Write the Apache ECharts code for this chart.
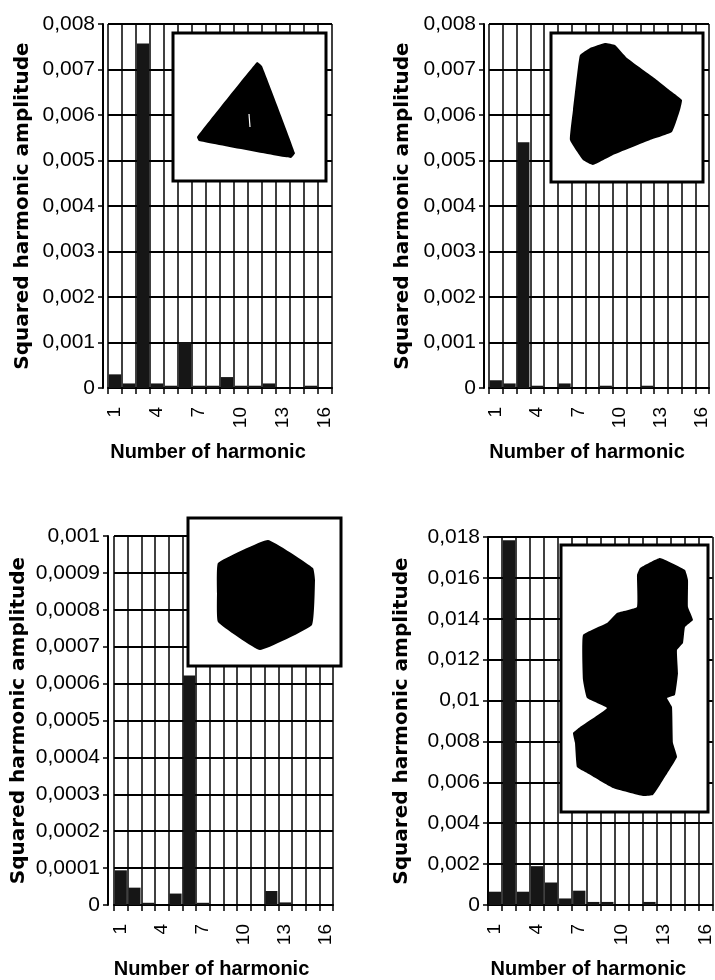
<!DOCTYPE html>
<html>
<head>
<meta charset="utf-8">
<script src="https://cdn.jsdelivr.net/npm/echarts@6/dist/echarts.min.js"></script>
<style>
  html, body { margin: 0; padding: 0; background: #fff; }
  #chart { width: 715px; height: 980px; }
</style>
</head>
<body>
<div id="chart"></div>
<script>
// harmonics 1..16
var harmonics = ['1','2','3','4','5','6','7','8','9','10','11','12','13','14','15','16'];

// squared harmonic amplitudes
var triangleVals = [0.0003, 0.0001, 0.00757, 0.0001, 0.00005, 0.00101, 0.00005, 0.00005,
                    0.00024, 0.00005, 0.00005, 0.0001, 0, 0, 0.00005, 0];
var roundedVals  = [0.00017, 0.0001, 0.0054, 0.00005, 0, 0.0001, 0, 0,
                    0.00005, 0, 0, 0.00005, 0, 0, 0, 0];
var hexagonVals  = [0.000094, 0.000047, 0.000006, 0, 0.000031, 0.000622, 0.000006, 0,
                    0, 0, 0, 0.000038, 0.000007, 0, 0, 0];
var twinVals     = [0.00065, 0.01784, 0.00065, 0.0019, 0.0011, 0.00032, 0.0007, 0.00015,
                    0.00015, 0, 0, 0.00015, 0, 0, 0, 0];

// y scales (max, step) per panel
var yMax  = [0.008, 0.008, 0.001, 0.018];
var yStep = [0.001, 0.001, 0.0001, 0.002];

var panels = [triangleVals, roundedVals, hexagonVals, twinVals];

// grid boxes
var grids = [
  { left: 108, top: 24,  width: 224, height: 364 },
  { left: 489, top: 24,  width: 220, height: 364 },
  { left: 114, top: 536, width: 219, height: 371 },
  { left: 488, top: 537, width: 228, height: 370 }
];
var yOffsets = [5, 5, 6, 0];
var yNameGaps = [70, 71, 79, 76];

var chart = echarts.init(document.getElementById('chart'));

var xAxes = [], yAxes = [], series = [];
panels.forEach(function (vals, i) {
  xAxes.push({
    type: 'category',
    gridIndex: i,
    data: harmonics,
    boundaryGap: true,
    name: 'Number of harmonic',
    nameLocation: 'middle',
    nameGap: 54,
    nameTextStyle: { fontFamily: 'Liberation Sans', fontWeight: 'bold', fontSize: 20, color: '#000', padding: [0, 24, 0, 0] },
    axisLine: { lineStyle: { color: '#000', width: 2 } },
    axisTick: { show: true, interval: 0, length: 6, lineStyle: { color: '#000', width: 1.5 } },
    axisLabel: { interval: 2, rotate: 90, margin: 19, fontFamily: 'Liberation Sans', fontSize: 19, color: '#000' },
    splitLine: { show: true, interval: 0, lineStyle: { color: '#000', width: 1.5 } }
  });
  yAxes.push({
    type: 'value',
    gridIndex: i,
    min: 0,
    max: yMax[i],
    interval: yStep[i],
    offset: yOffsets[i],
    name: 'Squared harmonic amplitude',
    nameLocation: 'middle',
    nameGap: yNameGaps[i],
    nameTextStyle: { fontFamily: 'DejaVu Sans', fontWeight: 'bold', fontSize: 20, color: '#000' },
    axisLine: { show: true, lineStyle: { color: '#000', width: 2 } },
    axisTick: { show: true, length: 5, lineStyle: { color: '#000', width: 1.5 } },
    axisLabel: {
      margin: 8, fontFamily: 'Liberation Sans', fontSize: 21, color: '#000',
      formatter: function (v) { return v === 0 ? '0' : String(+v.toPrecision(6)).replace('.', ','); }
    },
    splitLine: { show: true, lineStyle: { color: '#000', width: 2 } }
  });
  series.push({
    type: 'bar',
    xAxisIndex: i,
    yAxisIndex: i,
    data: vals,
    barCategoryGap: '12%',
    itemStyle: { color: '#161616' },
    z: 3
  });
});

// inset boxes with the particle outlines
function inset(box, pts, extra) {
  var g = [{
    type: 'rect',
    shape: { x: box[0], y: box[1], width: box[2] - box[0], height: box[3] - box[1] },
    style: { fill: '#fff', stroke: '#000', lineWidth: 3 },
    z: 10
  }, {
    type: 'polygon',
    shape: { points: pts, smooth: 0.1 },
    style: { fill: '#000' },
    z: 11
  }];
  return extra ? g.concat(extra) : g;
}

var graphics = []
  .concat(inset([173, 33, 326, 181],
    [[257, 62], [262, 66], [295, 153], [291, 158], [199, 141], [197, 137]],
    [{ type: 'polyline', shape: { points: [[249, 114], [250, 127]] },
       style: { stroke: '#fff', lineWidth: 1.2, fill: null }, z: 12 }]))
  .concat(inset([551, 33, 703, 182],
    [[580, 55], [590, 48], [605, 43], [615, 45], [627, 58], [653, 77], [672, 92], [682, 100],
     [680, 110], [672, 132], [650, 140], [613, 155], [593, 165], [583, 160], [570, 140],
     [573, 110], [578, 67]]))
  .concat(inset([188, 518, 341, 666],
    [[268, 540], [313, 568], [315, 580], [312, 625], [260, 650], [218, 622], [217, 593], [218, 563]]))
  .concat(inset([561, 545, 708, 812],
    [[640, 568], [660, 558], [685, 570], [688, 580], [688, 607], [693, 620], [685, 627],
     [683, 643], [677, 650], [678, 673], [675, 695], [667, 698], [672, 707], [673, 743],
     [677, 757], [663, 780], [653, 795], [643, 796], [613, 788], [587, 773], [577, 767],
     [575, 743], [573, 733], [580, 727], [607, 708], [587, 698], [583, 680], [583, 635],
     [607, 623], [617, 613], [637, 607], [637, 575]]));

chart.setOption({
  backgroundColor: '#fff',
  animation: false,
  grid: grids,
  xAxis: xAxes,
  yAxis: yAxes,
  series: series,
  graphic: graphics
});
</script>
</body>
</html>
